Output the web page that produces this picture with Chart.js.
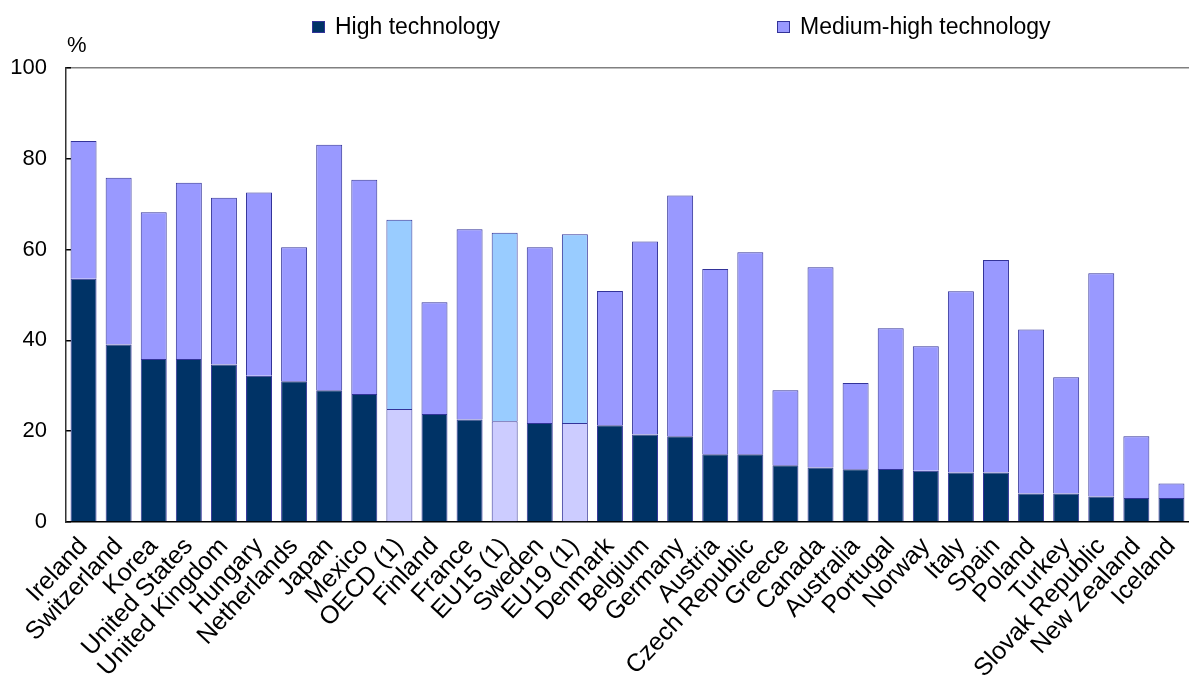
<!DOCTYPE html>
<html>
<head>
<meta charset="utf-8">
<title>High and medium-high technology</title>
<script src="https://cdn.jsdelivr.net/npm/chart.js@4/dist/chart.umd.min.js"></script>
<style>
  html, body { margin: 0; padding: 0; background: #fff; }
  #wrap { width: 1189px; height: 680px; }
</style>
</head>
<body>
<div id="wrap"><canvas id="techChart" width="1189" height="680"></canvas></div>
<script>
// Категории (страны и агрегаты)
const countries = ['Ireland', 'Switzerland', 'Korea', 'United States', 'United Kingdom', 'Hungary',
    'Netherlands', 'Japan', 'Mexico', 'OECD (1)', 'Finland', 'France', 'EU15 (1)', 'Sweden',
    'EU19 (1)', 'Denmark', 'Belgium', 'Germany', 'Austria', 'Czech Republic', 'Greece', 'Canada',
    'Australia', 'Portugal', 'Norway', 'Italy', 'Spain', 'Poland', 'Turkey', 'Slovak Republic',
    'New Zealand', 'Iceland'];

// High technology, %
const highTech = [53.6, 39.1, 35.9, 35.9, 34.7, 32.2, 31.0, 29.0, 28.2, 24.9, 23.8, 22.6, 22.2, 21.8,
    21.8, 21.3, 19.3, 18.9, 14.9, 14.9, 12.5, 12.0, 11.6, 11.7, 11.3, 10.9, 10.9, 6.3, 6.3, 5.6,
    5.3, 5.3];

// Medium-high technology, % (верхняя часть столбца)
const mediumHighTech = [30.3, 36.7, 32.3, 38.8, 36.7, 40.4, 29.5, 54.1, 47.2, 41.7, 24.6, 41.9, 41.5,
    38.7, 41.6, 29.6, 42.5, 53.0, 40.8, 44.5, 16.5, 44.1, 19.0, 31.0, 27.4, 39.9, 46.8, 36.1, 25.6,
    49.2, 13.6, 3.2];

const seriesNames = ['High technology', 'Medium-high technology'];
const yTicks = [0, 20, 40, 60, 80, 100];
const aggregates = ['OECD (1)', 'EU15 (1)', 'EU19 (1)'];

const FONT = '"Liberation Sans", Arial, sans-serif';
const colors = {
    high: '#003366',
    medium: '#9999FF',
    highAgg: '#CCCCFF',
    mediumAgg: '#99CCFF',
    border: '#333399'
};

// Легенда и знак "%" рисуются отдельно
const extrasPlugin = {
    id: 'extras',
    afterDraw(chart) {
        const ctx = chart.ctx;
        ctx.save();
        ctx.font = '22px ' + FONT;
        ctx.fillStyle = '#000';
        ctx.textBaseline = 'alphabetic';
        ctx.fillText('%', chart.chartArea.left + 1, 52);

        const items = [
            { x: 312, fill: colors.high, text: seriesNames[0] },
            { x: 777, fill: colors.medium, text: seriesNames[1] }
        ];
        ctx.font = '23px ' + FONT;
        items.forEach(it => {
            ctx.fillStyle = it.fill;
            ctx.fillRect(it.x, 21, 13, 12);
            ctx.strokeStyle = colors.border;
            ctx.lineWidth = 1;
            ctx.strokeRect(it.x + 0.5, 21.5, 12, 11);
            ctx.fillStyle = '#000';
            ctx.textBaseline = 'middle';
            ctx.fillText(it.text, it.x + 23, 28);
        });
        ctx.restore();
    }
};

function isAgg(i) {
    return aggregates.includes(countries[i]);
}

const ctx = document.getElementById('techChart').getContext('2d');
new Chart(ctx, {
    type: 'bar',
    data: {
        labels: countries,
        datasets: [
            {
                label: seriesNames[0],
                data: highTech,
                backgroundColor: c => isAgg(c.dataIndex) ? colors.highAgg : colors.high,
                borderColor: colors.border,
                borderWidth: 1,
                barPercentage: 1,
                categoryPercentage: 0.74
            },
            {
                label: seriesNames[1],
                data: mediumHighTech,
                backgroundColor: c => isAgg(c.dataIndex) ? colors.mediumAgg : colors.medium,
                borderColor: colors.border,
                borderWidth: 1,
                barPercentage: 1,
                categoryPercentage: 0.74
            }
        ]
    },
    options: {
        responsive: false,
        animation: false,
        layout: {
            padding: { top: 68, left: 10, right: 0, bottom: 0 }
        },
        plugins: {
            legend: { display: false },
            tooltip: { enabled: false }
        },
        scales: {
            x: {
                stacked: true,
                grid: { display: false },
                border: { display: true, color: '#000', width: 1.5 },
                afterFit: scale => {
                    // подписи могут выходить за левый край, как в оригинале
                    scale.paddingLeft = 0;
                    scale.paddingRight = 0;
                    scale.height = 158;
                },
                ticks: {
                    color: '#000',
                    font: { family: FONT, size: 25 },
                    minRotation: 47,
                    maxRotation: 47,
                    autoSkip: false,
                    padding: 2
                }
            },
            y: {
                stacked: true,
                min: 0,
                max: 100,
                afterBuildTicks: scale => {
                    scale.ticks = yTicks.map(v => ({ value: v }));
                },
                afterFit: scale => {
                    scale.width = 56;
                },
                grid: {
                    color: c => c.tick && c.tick.value === 100 ? '#808080' : 'rgba(0,0,0,0)',
                    tickColor: '#000',
                    tickLength: -5,
                    lineWidth: 1.5
                },
                border: { display: true, color: '#333', width: 1.5 },
                ticks: {
                    color: '#000',
                    font: { family: FONT, size: 22 },
                    padding: 24
                }
            }
        }
    },
    plugins: [extrasPlugin]
});
</script>
</body>
</html>
